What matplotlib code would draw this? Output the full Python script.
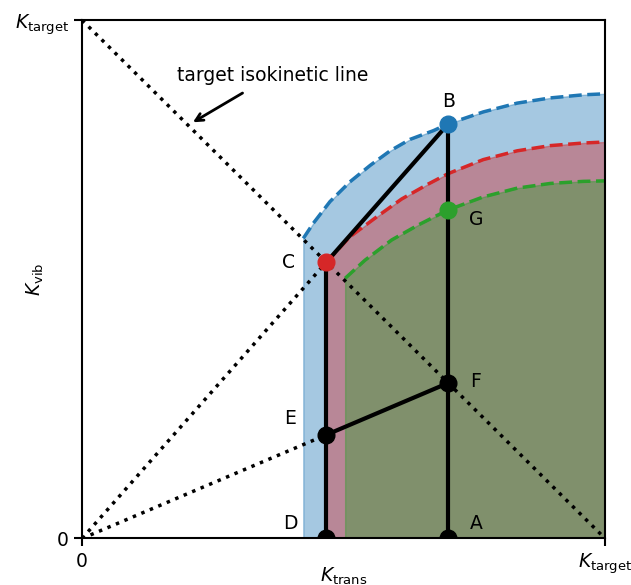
import numpy as np
import matplotlib.pyplot as plt

# excitation curves (K_trans, K_vib), read along each boundary
blue_x = [0.423, 0.442, 0.474, 0.512, 0.551, 0.589, 0.627, 0.672, 0.700, 0.767, 0.832, 0.895, 0.958, 1.000]
blue_y = [0.579, 0.608, 0.650, 0.688, 0.720, 0.748, 0.770, 0.787, 0.800, 0.823, 0.840, 0.850, 0.856, 0.858]

red_x = [0.467, 0.512, 0.564, 0.611, 0.662, 0.700, 0.767, 0.832, 0.895, 0.958, 1.000]
red_y = [0.533, 0.582, 0.621, 0.655, 0.684, 0.704, 0.731, 0.748, 0.758, 0.763, 0.765]

green_x = [0.503, 0.541, 0.592, 0.643, 0.700, 0.767, 0.832, 0.895, 0.958, 1.000]
green_y = [0.502, 0.537, 0.576, 0.605, 0.634, 0.659, 0.676, 0.685, 0.689, 0.690]

# labelled states
names = ["A", "B", "C", "D", "E", "F", "G"]
pt_x = [0.700, 0.700, 0.467, 0.467, 0.467, 0.700, 0.700]
pt_y = [0.000, 0.800, 0.533, 0.000, 0.200, 0.300, 0.634]
pt_col = ["black", "tab:blue", "tab:red", "black", "black", "black", "tab:green"]
# label offsets in points
offsets = [(20, 11), (0, 16), (-27, 0), (-26, 11), (-26, 12), (20, 1), (20, -7)]

P = dict(zip(names, zip(pt_x, pt_y)))

fs = 13.5
fig = plt.figure(figsize=(6.31, 5.85), dpi=100)
ax = fig.add_axes([0.130, 0.0795, 0.829, 0.886])

# shaded regions under each curve
ax.fill_between(blue_x, blue_y, 0, color="tab:blue", alpha=0.4)
ax.fill_between(red_x, red_y, 0, color="tab:red", alpha=0.4)
ax.fill_between(green_x, green_y, 0, color="tab:green", alpha=0.4)

ax.plot(blue_x, blue_y, "--", color="tab:blue", lw=2.5)
ax.plot(red_x, red_y, "--", color="tab:red", lw=2.5)
ax.plot(green_x, green_y, "--", color="tab:green", lw=2.5)

# isokinetic line and rays from the origin
ax.plot([0, 1], [1, 0], ":", color="black", lw=2.5)
ax.plot([0, P["C"][0]], [0, P["C"][1]], ":", color="black", lw=2.5)
ax.plot([0, P["E"][0]], [0, P["E"][1]], ":", color="black", lw=2.5)

# solid paths
for a, b in [("D", "C"), ("C", "B"), ("A", "B"), ("E", "F")]:
    ax.plot([P[a][0], P[b][0]], [P[a][1], P[b][1]], "-", color="black", lw=3)

for n, x, y, c, off in zip(names, pt_x, pt_y, pt_col, offsets):
    ax.plot(x, y, "o", color=c, ms=12, zorder=5)
    ax.annotate(n, (x, y), xytext=off, textcoords="offset points",
                ha="center", va="center", fontsize=fs)

ax.annotate("target isokinetic line", xy=(0.212, 0.803), xytext=(0.365, 0.894),
            ha="center", va="center", fontsize=fs,
            arrowprops=dict(arrowstyle="->", lw=2, color="black",
                            shrinkA=8, shrinkB=0))

ax.set_xlim(0, 1)
ax.set_ylim(0, 1)
ax.set_xticks([0, 1])
ax.set_xticklabels(["0", r"$K_\mathrm{target}$"])
ax.set_yticks([0, 1])
ax.set_yticklabels(["0", r"$K_\mathrm{target}$"])
ax.tick_params(labelsize=fs, length=6, width=1.5)
for s in ax.spines.values():
    s.set_linewidth(1.5)
ax.set_xlabel(r"$K_\mathrm{trans}$", fontsize=fs)
ax.set_ylabel(r"$K_\mathrm{vib}$", fontsize=fs)
ax.xaxis.set_label_coords(0.5, -0.052)
ax.yaxis.set_label_coords(-0.069, 0.5)

fig.savefig("out.png", dpi=100)
